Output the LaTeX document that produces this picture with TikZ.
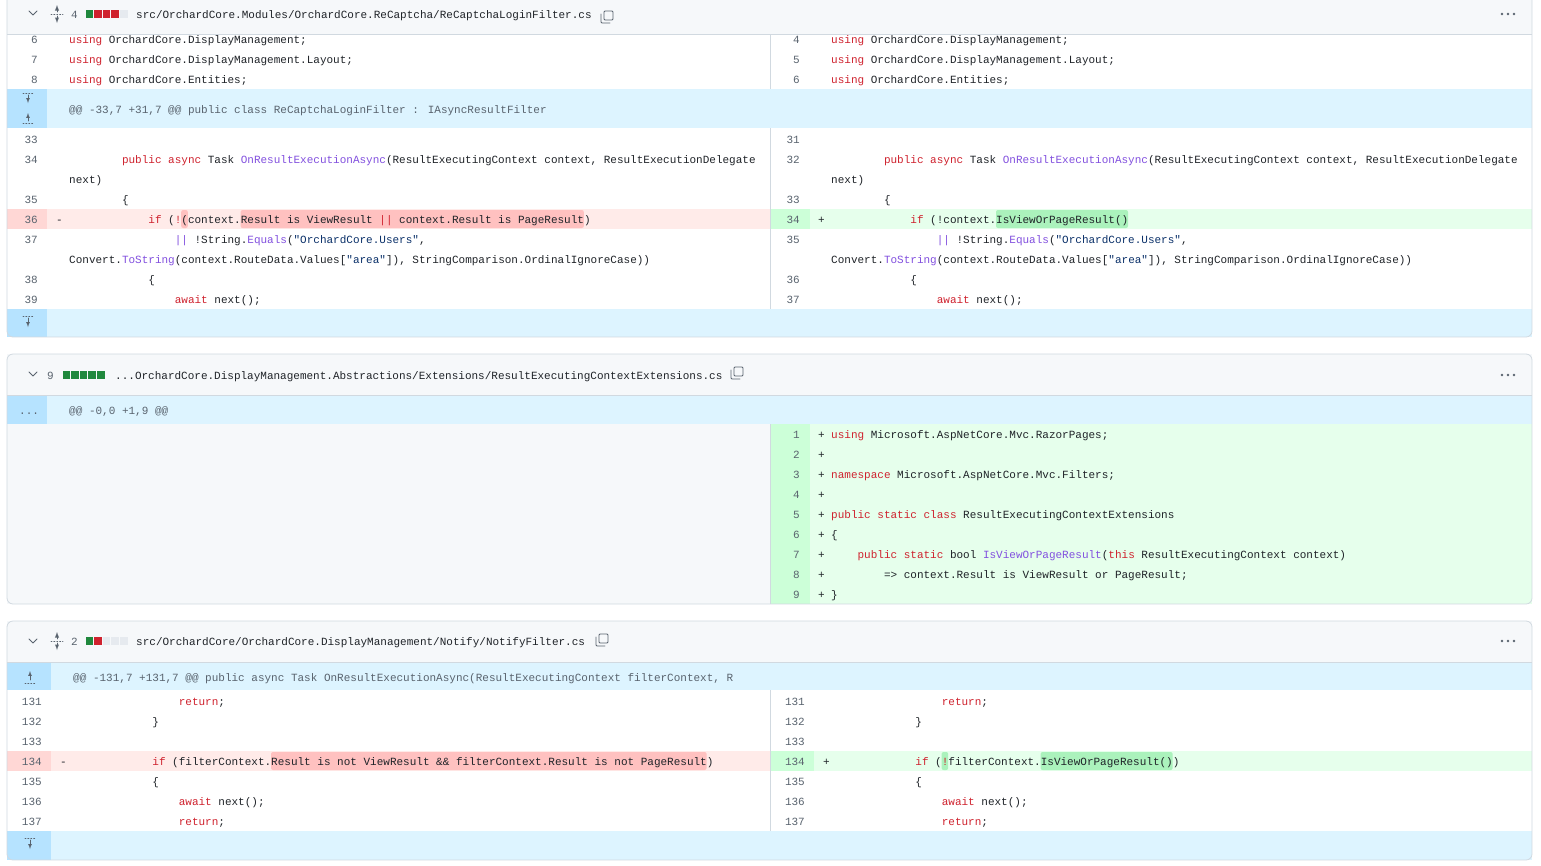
\documentclass[tikz,border=0pt]{standalone}
\usepackage{fontspec}
\newfontfamily\codefont[Ligatures=NoCommon]{Liberation Mono}
\usetikzlibrary{positioning}
\definecolor{ink}{HTML}{1F2328}
\definecolor{numgray}{HTML}{59636E}
\definecolor{kw}{HTML}{CF222E}
\definecolor{fn}{HTML}{8250DF}
\definecolor{str}{HTML}{0A3069}
\definecolor{hdrbg}{HTML}{F6F8FA}
\definecolor{frame}{HTML}{D1D9E0}
\definecolor{hunkbg}{HTML}{DDF4FF}
\definecolor{hunkgut}{HTML}{B6E3FF}
\definecolor{delbg}{HTML}{FFEBE9}
\definecolor{delgut}{HTML}{FFD7D5}
\definecolor{delhl}{HTML}{FFC1C0}
\definecolor{addbg}{HTML}{E6FFEC}
\definecolor{addgut}{HTML}{CCFFD8}
\definecolor{addhl}{HTML}{ABF2BC}
\definecolor{sqgreen}{HTML}{1F883D}
\definecolor{sqred}{HTML}{CF222E}
\definecolor{sqgray}{HTML}{E6EAEF}
\def\cw{6.6}
\newcommand\K[1]{\textcolor{kw}{#1}}
\newcommand\F[1]{\textcolor{fn}{#1}}
\newcommand\St[1]{\textcolor{str}{#1}}
% code line: x0, column, row centre, text
\newcommand\cl[4]{\node[code] at ({#1+#2*\cw},#3+4) {#4};}
% line number: right edge, number, row centre
\newcommand\lno[3]{\node[lnum] at (#1,#3+4) {#2};}
% word highlight: x0, first col, last col, row centre, colour
\newcommand\hlt[5]{\fill[#5,rounded corners=2pt] ({#1+#2*\cw},#4-9) rectangle ({#1+#3*\cw},#4+9);}
\begin{document}
\begin{tikzpicture}[x=1pt,y=-1pt,
  code/.style={anchor=base west,inner sep=0pt,font=\codefont\fontsize{11}{12}\selectfont,text=ink},
  lnum/.style={anchor=base east,inner sep=0pt,font=\codefont\fontsize{11}{12}\selectfont,text=numgray},
  panel/.style={draw=frame,line width=0.8pt,rounded corners=6pt},
  icon/.style={draw=numgray,line width=0.9pt,line cap=round,line join=round}
]
\useasboundingbox (0,0) rectangle (1541,865);
\fill[white] (0,0) rectangle (1541,865);

% ---------- panel 1 ----------
\fill[hdrbg] (7,-6) rectangle (1532,34);
\fill[hunkbg] (7,89) rectangle (1532,128);
\fill[hunkgut] (7,89) rectangle (47,128);
\fill[delbg] (7,209) rectangle (770,229);
\fill[delgut] (7,209) rectangle (47,229);
\fill[addbg] (770,209) rectangle (1532,229);
\fill[addgut] (770,209) rectangle (810,229);
\fill[hunkbg] (7,309) rectangle (1532,337);
\fill[hunkgut] (7,309) rectangle (47,337);
\draw[frame] (7,34) -- (1532,34);
\draw[frame] (770,34) -- (770,89) (770,128) -- (770,309);
\hlt{69}{17}{18}{219}{delhl}
\hlt{69}{26}{78}{219}{delhl}
\hlt{831}{25}{45}{219}{addhl}
\draw[panel] (7,-10) rectangle (1532,337);
% header
\draw[icon] (29,11) -- (33,15) -- (37,11);
\draw[icon,-latex] (57,12) -- (57,5);
\draw[icon,-latex] (57,16) -- (57,23);
\draw[icon,dotted] (51,14) -- (63,14);
\node[code,text=numgray] at (71,18) {4};
\foreach \c [count=\i] in {sqgreen,sqred,sqred,sqred,sqgray}
  \fill[\c] ({77+\i*8.6},10) rectangle ++(7.6,8);
\node[code] (path1) at (136,18) {src/OrchardCore.Modules/OrchardCore.ReCaptcha/ReCaptchaLoginFilter.cs};
\draw[icon,rounded corners=1pt] (604,11) rectangle (613,20);
\draw[icon,rounded corners=1pt] (601,14) -- (601,23) -- (610,23);
\foreach \d in {0,6,12} \fill[numgray] (1502+\d,14) circle (1.4);
% rows
\lno{38}{6}{39}\cl{69}{0}{39}{\K{using} OrchardCore.DisplayManagement;}
\lno{38}{7}{59}\cl{69}{0}{59}{\K{using} OrchardCore.DisplayManagement.Layout;}
\lno{38}{8}{79}\cl{69}{0}{79}{\K{using} OrchardCore.Entities;}
\lno{800}{4}{39}\cl{831}{0}{39}{\K{using} OrchardCore.DisplayManagement;}
\lno{800}{5}{59}\cl{831}{0}{59}{\K{using} OrchardCore.DisplayManagement.Layout;}
\lno{800}{6}{79}\cl{831}{0}{79}{\K{using} OrchardCore.Entities;}
\draw[icon,dotted] (23,93) -- (33,93);
\draw[icon,-latex,line width=0.7pt] (28,95) -- (28,103);
\draw[icon,-latex,line width=0.7pt] (28,121) -- (28,113);
\draw[icon,dotted] (23,123) -- (33,123);
\node[code,text=numgray] (hunk1) at (69,113) {@@ -33,7 +31,7 @@ public class ReCaptchaLoginFilter : IAsyncResultFilter};
\foreach \x/\o/\r in {69/38/0,831/800/1}{
  \ifnum\r=0
    \lno{\o}{33}{139}\lno{\o}{34}{159}\lno{\o}{35}{199}\lno{\o}{36}{219}\lno{\o}{37}{239}\lno{\o}{38}{279}\lno{\o}{39}{299}
  \else
    \lno{\o}{31}{139}\lno{\o}{32}{159}\lno{\o}{33}{199}\lno{\o}{34}{219}\lno{\o}{35}{239}\lno{\o}{36}{279}\lno{\o}{37}{299}
  \fi
  \cl{\x}{8}{159}{\K{public} \K{async} Task \F{OnResultExecutionAsync}(ResultExecutingContext context, ResultExecutionDelegate}
  \cl{\x}{0}{179}{next)}
  \cl{\x}{8}{199}{\{}
  \cl{\x}{16}{239}{\textcolor{fn}{||} !String.\F{Equals}(\St{"OrchardCore.Users"},}
  \cl{\x}{0}{259}{Convert.\F{ToString}(context.RouteData.Values[\St{"area"}]), StringComparison.OrdinalIgnoreCase))}
  \cl{\x}{12}{279}{\{}
  \cl{\x}{16}{299}{\K{await} next();}
}
\cl{69}{-2}{219}{-}
\cl{69}{12}{219}{\K{if} (\K{!}(context.Result is ViewResult \K{||} context.Result is PageResult)}
\cl{831}{-2}{219}{+}
\cl{831}{12}{219}{\K{if} (!context.IsViewOrPageResult()}
\draw[icon,dotted] (23,316) -- (33,316);
\draw[icon,-latex,line width=0.7pt] (28,318) -- (28,327);

% ---------- panel 2 ----------
\fill[hdrbg] (7,354) rectangle (1532,395);
\fill[hunkbg] (7,395) rectangle (1532,424);
\fill[hunkgut] (7,395) rectangle (47,424);
\fill[hdrbg] (7,424) rectangle (770,604);
\fill[addbg] (770,424) rectangle (1532,604);
\fill[addgut] (770,424) rectangle (810,604);
\draw[frame] (7,395) -- (1532,395);
\draw[frame] (770,424) -- (770,604);
\draw[panel] (7,354) rectangle (1532,604);
\draw[icon] (29,372) -- (33,376) -- (37,372);
\node[code,text=numgray] at (47,379) {9};
\foreach \i in {1,...,5}
  \fill[sqgreen] ({54+\i*8.6},371) rectangle ++(7.6,8);
\node[code] (path2) at (115,379) {...OrchardCore.DisplayManagement.Abstractions/Extensions/ResultExecutingContextExtensions.cs};
\draw[icon,rounded corners=1pt] (734,367) rectangle (743,376);
\draw[icon,rounded corners=1pt] (731,370) -- (731,379) -- (740,379);
\foreach \d in {0,6,12} \fill[numgray] (1502+\d,375) circle (1.4);
\node[code,text=numgray] at (19,414) {...};
\node[code,text=numgray] (hunk2) at (69,414) {@@ -0,0 +1,9 @@};
\foreach \n [count=\k from 0] in {1,...,9}{
  \lno{800}{\n}{434+20*\k}
  \cl{831}{-2}{434+20*\k}{+}
}
\cl{831}{0}{434}{\K{using} Microsoft.AspNetCore.Mvc.RazorPages;}
\cl{831}{0}{474}{\K{namespace} Microsoft.AspNetCore.Mvc.Filters;}
\cl{831}{0}{514}{\K{public} \K{static} \K{class} ResultExecutingContextExtensions}
\cl{831}{0}{534}{\{}
\cl{831}{4}{554}{\K{public} \K{static} bool \F{IsViewOrPageResult}(\K{this} ResultExecutingContext context)}
\cl{831}{8}{574}{=> context.Result is ViewResult or PageResult;}
\cl{831}{0}{594}{\}}

% ---------- panel 3 ----------
\fill[hdrbg] (7,621) rectangle (1532,662);
\fill[hunkbg] (7,662) rectangle (1532,690);
\fill[hunkgut] (7,662) rectangle (51,690);
\fill[delbg] (7,751) rectangle (770,771);
\fill[delgut] (7,751) rectangle (51,771);
\fill[addbg] (770,751) rectangle (1532,771);
\fill[addgut] (770,751) rectangle (814,771);
\fill[hunkbg] (7,831) rectangle (1532,860);
\fill[hunkgut] (7,831) rectangle (51,860);
\draw[frame] (7,662) -- (1532,662);
\draw[frame] (770,690) -- (770,831);
\hlt{73}{30}{96}{761}{delhl}
\hlt{836}{16}{17}{761}{addhl}
\hlt{836}{31}{51}{761}{addhl}
\draw[panel] (7,621) rectangle (1532,860);
\draw[icon] (29,639) -- (33,643) -- (37,639);
\draw[icon,-latex] (57,639) -- (57,632);
\draw[icon,-latex] (57,643) -- (57,650);
\draw[icon,dotted] (51,641) -- (63,641);
\node[code,text=numgray] at (71,645) {2};
\foreach \c [count=\i] in {sqgreen,sqred,sqgray,sqgray,sqgray}
  \fill[\c] ({77+\i*8.6},637) rectangle ++(7.6,8);
\node[code] (path3) at (136,645) {src/OrchardCore/OrchardCore.DisplayManagement/Notify/NotifyFilter.cs};
\draw[icon,rounded corners=1pt] (599,634) rectangle (608,643);
\draw[icon,rounded corners=1pt] (596,637) -- (596,646) -- (605,646);
\foreach \d in {0,6,12} \fill[numgray] (1502+\d,641) circle (1.4);
\draw[icon,-latex,line width=0.7pt] (30,680) -- (30,671);
\draw[icon,dotted] (25,683) -- (35,683);
\node[code,text=numgray] (hunk3) at (73,681) {@@ -131,7 +131,7 @@ public async Task OnResultExecutionAsync(ResultExecutingContext filterContext, R};
\foreach \x/\o in {73/42,836/805}{
  \foreach \n [count=\k from 0] in {131,...,137}{ \lno{\o}{\n}{701+20*\k} }
  \cl{\x}{16}{701}{\K{return};}
  \cl{\x}{12}{721}{\}}
  \cl{\x}{12}{781}{\{}
  \cl{\x}{16}{801}{\K{await} next();}
  \cl{\x}{16}{821}{\K{return};}
}
\cl{73}{-2}{761}{-}
\cl{73}{12}{761}{\K{if} (filterContext.Result is not ViewResult \&\& filterContext.Result is not PageResult)}
\cl{836}{-2}{761}{+}
\cl{836}{12}{761}{\K{if} (\K{!}filterContext.IsViewOrPageResult())}
\draw[icon,dotted] (25,838) -- (35,838);
\draw[icon,-latex,line width=0.7pt] (30,840) -- (30,849);
\end{tikzpicture}
\end{document}
